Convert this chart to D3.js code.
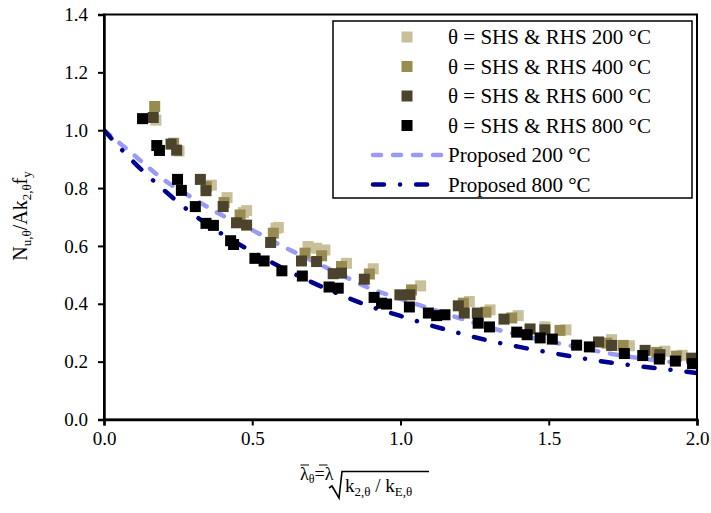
<!DOCTYPE html>
<html>
<head>
<meta charset="utf-8">
<script src="https://cdn.jsdelivr.net/npm/d3@7"></script>
<style>
  html, body { margin: 0; padding: 0; background: #fff; }
  svg { display: block; }
  text { font-family: "Liberation Serif", "Times New Roman", serif; fill: #000; }
</style>
</head>
<body>
<svg id="chart" width="711" height="513"></svg>
<script>
// Slenderness grid for the design curves
const lambdaGrid = [0.0, 0.1, 0.2, 0.3, 0.4, 0.5, 0.6, 0.7, 0.8, 0.9, 1.0,
                    1.1, 1.2, 1.3, 1.4, 1.5, 1.6, 1.7, 1.8, 1.9, 2.0];
// Proposed design curves
const proposed200 = [1.0, 0.915, 0.83, 0.765, 0.705, 0.655, 0.60, 0.55, 0.50, 0.452, 0.417,
                     0.383, 0.35, 0.318, 0.292, 0.270, 0.250, 0.229, 0.213, 0.200, 0.188];
const proposed800 = [1.0, 0.89, 0.795, 0.71, 0.64, 0.58, 0.525, 0.475, 0.43, 0.39, 0.358,
                     0.326, 0.298, 0.272, 0.251, 0.232, 0.214, 0.198, 0.185, 0.173, 0.161];

// Test results: [slenderness, normalised capacity]
const shs200 = [[0.175,1.035],[0.253,0.928],[0.362,0.81],[0.415,0.767],[0.481,0.722],[0.47,0.715],
  [0.588,0.664],[0.58,0.661],[0.688,0.598],[0.717,0.592],[0.745,0.586],[0.818,0.54],[0.908,0.521],
  [1.068,0.462],[1.232,0.408],[1.302,0.379],[1.397,0.359],[1.487,0.32],[1.558,0.31],
  [1.712,0.276],[1.772,0.255],[1.892,0.236],[1.95,0.222]];
const shs400 = [[0.171,1.082],[0.235,0.955],[0.345,0.805],[0.405,0.75],[0.459,0.707],[0.571,0.644],
  [0.678,0.575],[0.734,0.566],[0.801,0.529],[0.895,0.503],[1.037,0.448],[1.212,0.402],[1.288,0.371],
  [1.375,0.351],[1.538,0.308],[1.696,0.264],[1.751,0.256],[1.864,0.232],[1.931,0.219]];
const shs600 = [[0.166,1.044],[0.226,0.952],[0.245,0.931],[0.325,0.83],[0.344,0.791],[0.402,0.736],
  [0.447,0.68],[0.481,0.672],[0.562,0.612],[0.666,0.548],[0.717,0.546],[0.773,0.504],[0.801,0.506],
  [0.878,0.485],[0.998,0.431],[1.032,0.431],[1.195,0.393],[1.215,0.368],[1.259,0.368],[1.349,0.347],
  [1.437,0.313],[1.487,0.31],[1.668,0.268],[1.712,0.256],[1.825,0.239],[1.875,0.224],[1.982,0.212]];
const shs800 = [[0.130,1.040],[0.178,0.947],[0.187,0.93],[0.248,0.83],[0.261,0.792],[0.308,0.736],
  [0.344,0.678],[0.369,0.671],[0.427,0.618],[0.437,0.605],[0.509,0.557],[0.54,0.548],[0.60,0.514],
  [0.669,0.496],[0.759,0.458],[0.79,0.454],[0.911,0.422],[0.936,0.402],[0.953,0.399],[1.03,0.389],
  [1.094,0.368],[1.122,0.359],[1.15,0.362],[1.262,0.333],[1.30,0.32],[1.392,0.302],[1.427,0.293],
  [1.471,0.282],[1.512,0.278],[1.594,0.257],[1.637,0.251],[1.755,0.228],[1.817,0.221],
  [1.873,0.209],[1.927,0.202],[1.985,0.193]];

const xTicks = [0, 0.5, 1.0, 1.5, 2.0];
const yTicks = [0, 0.2, 0.4, 0.6, 0.8, 1.0, 1.2, 1.4];
const seriesNames = ["θ = SHS & RHS 200 °C", "θ = SHS & RHS 400 °C",
                     "θ = SHS & RHS 600 °C", "θ = SHS & RHS 800 °C"];
const curveNames = ["Proposed 200 °C", "Proposed 800 °C"];

const svg = d3.select("#chart");
const plotL = 104, plotR = 697, plotT = 14.5, plotB = 419.5;
const x = d3.scaleLinear().domain([0, 2]).range([plotL, plotR]);
const y = d3.scaleLinear().domain([0, 1.4]).range([plotB, plotT]);

const markerColors = ["#c8bf9b", "#978b52", "#4b432b", "#000000"];
const markerSize = 11;
const curveStyles = [
  { color: "#9a9af4", dash: "8,12", width: 4.5 },
  { color: "#00008f", dash: "11,16,0.1,16", width: 4.5 }
];

const plot = svg.append("g");
plot.append("clipPath").attr("id", "clip")
  .append("rect").attr("x", plotL).attr("y", plotT).attr("width", plotR - plotL).attr("height", plotB - plotT);

// Design curves
const line = d3.line().x(d => x(d[0])).y(d => y(d[1])).curve(d3.curveMonotoneX);
[proposed200, proposed800].forEach((vals, i) => {
  const pts = lambdaGrid.map((l, k) => [l, vals[k]]);
  plot.append("path").datum(pts)
    .attr("clip-path", "url(#clip)")
    .attr("d", line)
    .attr("fill", "none")
    .attr("stroke", curveStyles[i].color)
    .attr("stroke-width", curveStyles[i].width)
    .attr("stroke-dasharray", curveStyles[i].dash)
    .attr("stroke-linecap", "round");
});

// Test points
[shs200, shs400, shs600, shs800].forEach((pts, i) => {
  plot.append("g").selectAll("rect").data(pts).join("rect")
    .attr("x", d => x(d[0]) - markerSize / 2)
    .attr("y", d => y(d[1]) - markerSize / 2)
    .attr("width", markerSize).attr("height", markerSize)
    .attr("fill", markerColors[i]);
});

// Frame and axes
svg.append("rect").attr("x", plotL).attr("y", plotT).attr("width", plotR - plotL).attr("height", plotB - plotT)
  .attr("fill", "none").attr("stroke", "#000").attr("stroke-width", 2);

const yAxis = svg.append("g").attr("transform", `translate(${plotL},0)`)
  .call(d3.axisLeft(y).tickValues(yTicks).tickFormat(d3.format(".1f")).tickSize(6).tickPadding(10));
const xAxis = svg.append("g").attr("transform", `translate(0,${plotB})`)
  .call(d3.axisBottom(x).tickValues(xTicks).tickFormat(d3.format(".1f")).tickSize(6).tickPadding(6));
[yAxis, xAxis].forEach(a => {
  a.select(".domain").attr("stroke", "#000").attr("stroke-width", 2.5);
  a.selectAll(".tick line").attr("stroke", "#000").attr("stroke-width", 2);
  a.selectAll(".tick text").attr("font-size", 19).attr("font-family", "Liberation Serif, serif").attr("fill", "#000");
});

// Y axis title
const yt = svg.append("text").attr("transform", "translate(27,216) rotate(-90)")
  .attr("text-anchor", "middle").attr("font-size", 20);
yt.append("tspan").text("N");
yt.append("tspan").attr("font-size", 13).attr("dy", 4).text("u,θ");
yt.append("tspan").attr("dy", -4).text("/Ak");
yt.append("tspan").attr("font-size", 13).attr("dy", 4).text("2,θ");
yt.append("tspan").attr("dy", -4).text("f");
yt.append("tspan").attr("font-size", 13).attr("dy", 4).text("y");

// X axis title: normalised slenderness with a square-root factor
const xt1 = svg.append("text").attr("x", 300).attr("y", 480).attr("font-size", 18);
xt1.append("tspan").text("λ");
xt1.append("tspan").attr("font-size", 12).attr("dy", 3).text("θ");
xt1.append("tspan").attr("dy", -3).text("=λ");
svg.append("line").attr("x1", 300.5).attr("x2", 309).attr("y1", 465).attr("y2", 465)
  .attr("stroke", "#000").attr("stroke-width", 1);
svg.append("line").attr("x1", 319).attr("x2", 327.5).attr("y1", 465).attr("y2", 465)
  .attr("stroke", "#000").attr("stroke-width", 1);
svg.append("path").attr("d", "M329,488 L332,486 L339,498 L342,471.5 L429,471.5")
  .attr("fill", "none").attr("stroke", "#000").attr("stroke-width", 1.6);
const xt2 = svg.append("text").attr("x", 345).attr("y", 492).attr("font-size", 19);
xt2.append("tspan").text("k");
xt2.append("tspan").attr("font-size", 13).attr("dy", 4).text("2,θ");
xt2.append("tspan").attr("dy", -4).text(" / k");
xt2.append("tspan").attr("font-size", 13).attr("dy", 4).text("E,θ");

// Legend
const lg = svg.append("g");
lg.append("rect").attr("x", 333).attr("y", 21).attr("width", 359).attr("height", 177)
  .attr("fill", "#fff").attr("stroke", "#000").attr("stroke-width", 1.5);
const rowY = [37, 66.5, 96, 125.5, 155, 184.5];
seriesNames.forEach((name, i) => {
  lg.append("rect").attr("x", 407 - markerSize / 2).attr("y", rowY[i] - markerSize / 2)
    .attr("width", markerSize).attr("height", markerSize).attr("fill", markerColors[i]);
  lg.append("text").attr("x", 448).attr("y", rowY[i] + 7).attr("font-size", 21).text(name);
});
curveNames.forEach((name, i) => {
  const yy = rowY[4 + i];
  lg.append("line").attr("x1", 373).attr("x2", 441).attr("y1", yy).attr("y2", yy)
    .attr("stroke", curveStyles[i].color).attr("stroke-width", curveStyles[i].width)
    .attr("stroke-dasharray", curveStyles[i].dash).attr("stroke-linecap", "round");
  lg.append("text").attr("x", 448).attr("y", yy + 7).attr("font-size", 21).text(name);
});
</script>
</body>
</html>
